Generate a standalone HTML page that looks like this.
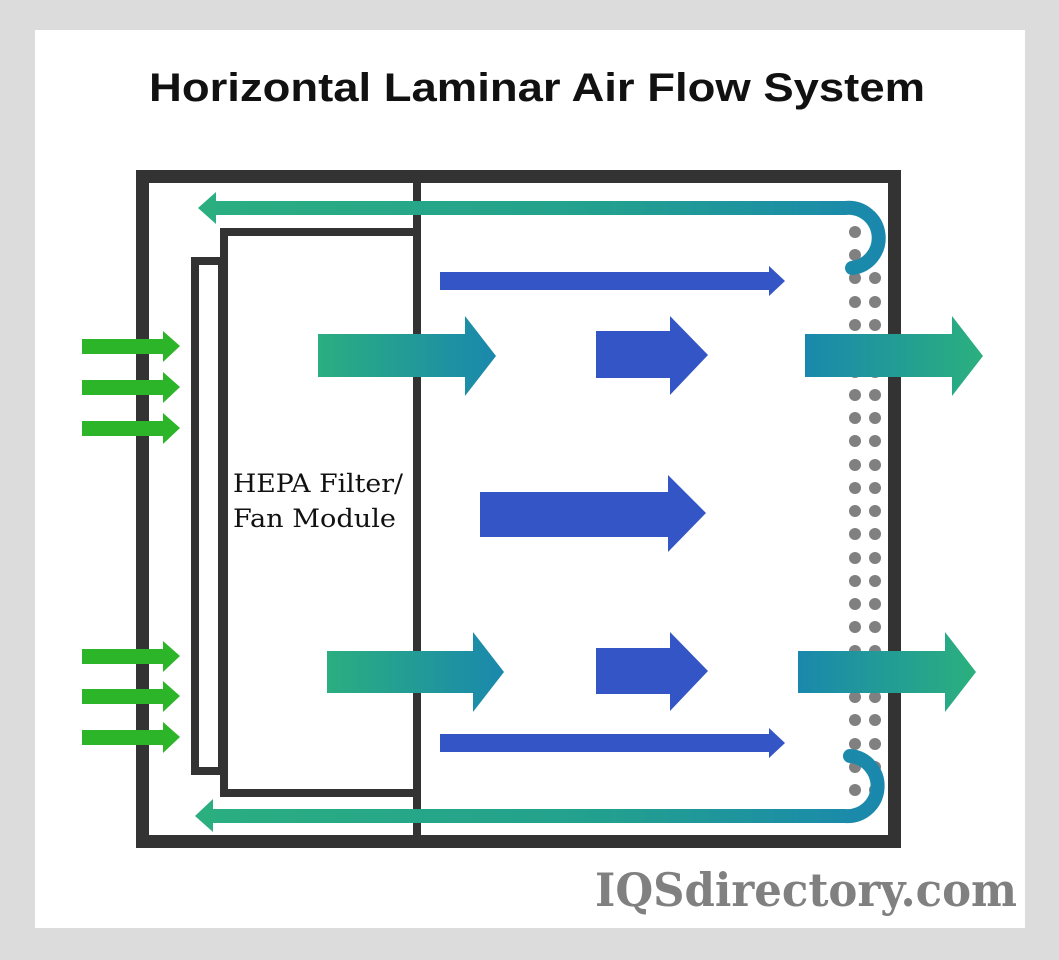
<!DOCTYPE html>
<html><head><meta charset="utf-8"><style>
html,body{margin:0;padding:0;background:#dcdcdc;}
svg{display:block}
</style></head><body>
<svg width="1059" height="960" viewBox="0 0 1059 960" xmlns="http://www.w3.org/2000/svg">
<defs>
<linearGradient id="gt" x1="0" x2="1" y1="0" y2="0"><stop offset="0" stop-color="#2bae80"/><stop offset="1" stop-color="#1a88ad"/></linearGradient>
<linearGradient id="gr" x1="0" x2="1" y1="0" y2="0"><stop offset="0" stop-color="#1a88ad"/><stop offset="1" stop-color="#2bb07e"/></linearGradient>
<linearGradient id="gtop" gradientUnits="userSpaceOnUse" x1="200" x2="880" y1="0" y2="0"><stop offset="0" stop-color="#2bae80"/><stop offset="0.6" stop-color="#22a08f"/><stop offset="1" stop-color="#1a88ad"/></linearGradient>
</defs>
<rect x="35" y="30" width="990" height="898" fill="#fff"/>
<text x="537" y="101" text-anchor="middle" font-family="Liberation Sans, sans-serif" font-weight="bold" font-size="40" textLength="776" lengthAdjust="spacingAndGlyphs" fill="#111">Horizontal Laminar Air Flow System</text>

<!-- box -->
<rect x="142.5" y="176.5" width="752" height="665" fill="none" stroke="#333" stroke-width="13"/>
<rect x="195" y="261" width="27" height="510" fill="none" stroke="#333" stroke-width="8"/>
<rect x="224" y="232" width="193" height="561" fill="#fff" stroke="#333" stroke-width="8"/>
<line x1="417" y1="182" x2="417" y2="836" stroke="#333" stroke-width="8"/>

<text font-family="DejaVu Serif, Liberation Serif, serif" font-size="25" fill="#111"><tspan x="233" y="492" textLength="170" lengthAdjust="spacingAndGlyphs">HEPA Filter/</tspan><tspan x="233" y="527" textLength="163" lengthAdjust="spacingAndGlyphs">Fan Module</tspan></text>

<!-- dots grid -->
<g fill="#808080">
<circle cx="855" cy="232" r="6"/><circle cx="855" cy="255" r="6"/><circle cx="855" cy="278" r="6"/><circle cx="875" cy="278" r="6"/>
<circle cx="855" cy="302" r="6"/><circle cx="875" cy="302" r="6"/><circle cx="855" cy="325" r="6"/><circle cx="875" cy="325" r="6"/>
<circle cx="855" cy="348" r="6"/><circle cx="875" cy="348" r="6"/><circle cx="855" cy="372" r="6"/><circle cx="875" cy="372" r="6"/>
<circle cx="855" cy="395" r="6"/><circle cx="875" cy="395" r="6"/><circle cx="855" cy="418" r="6"/><circle cx="875" cy="418" r="6"/>
<circle cx="855" cy="441" r="6"/><circle cx="875" cy="441" r="6"/><circle cx="855" cy="465" r="6"/><circle cx="875" cy="465" r="6"/>
<circle cx="855" cy="488" r="6"/><circle cx="875" cy="488" r="6"/><circle cx="855" cy="511" r="6"/><circle cx="875" cy="511" r="6"/>
<circle cx="855" cy="534" r="6"/><circle cx="875" cy="534" r="6"/><circle cx="855" cy="558" r="6"/><circle cx="875" cy="558" r="6"/>
<circle cx="855" cy="581" r="6"/><circle cx="875" cy="581" r="6"/><circle cx="855" cy="604" r="6"/><circle cx="875" cy="604" r="6"/>
<circle cx="855" cy="627" r="6"/><circle cx="875" cy="627" r="6"/><circle cx="855" cy="651" r="6"/><circle cx="875" cy="651" r="6"/>
<circle cx="855" cy="674" r="6"/><circle cx="875" cy="674" r="6"/><circle cx="855" cy="697" r="6"/><circle cx="875" cy="697" r="6"/>
<circle cx="855" cy="720" r="6"/><circle cx="875" cy="720" r="6"/><circle cx="855" cy="744" r="6"/><circle cx="875" cy="744" r="6"/>
<circle cx="855" cy="767" r="6"/><circle cx="875" cy="767" r="6"/><circle cx="855" cy="790" r="6"/><circle cx="875" cy="790" r="6"/>
</g>

<!-- return paths -->
<path d="M215 208 L845 208 A30 30 0 0 1 852 268" fill="none" stroke="url(#gtop)" stroke-width="14" stroke-linecap="round"/>
<polygon points="198,208 216,192 216,224" fill="#2bae80"/>
<path d="M212 816 L845 816 A30 30 0 0 0 850 756" fill="none" stroke="url(#gtop)" stroke-width="14" stroke-linecap="round"/>
<polygon points="195,816 213,799 213,832" fill="#2bae80"/>

<!-- green inputs -->
<g fill="#2db52a">
<polygon points="82,339 163,339 163,331 180,346 163,362 163,354 82,354"/>
<polygon points="82,380 163,380 163,372 180,387 163,403 163,395 82,395"/>
<polygon points="82,421 163,421 163,413 180,428 163,444 163,436 82,436"/>
<polygon points="82,649 163,649 163,641 180,656 163,672 163,664 82,664"/>
<polygon points="82,689 163,689 163,681 180,696 163,712 163,704 82,704"/>
<polygon points="82,730 163,730 163,722 180,737 163,753 163,745 82,745"/>
</g>

<!-- gradient arrows -->
<polygon points="318,334 465,334 465,316 496,356 465,396 465,377 318,377" fill="url(#gt)"/>
<polygon points="327,651 473,651 473,632 504,672 473,712 473,693 327,693" fill="url(#gt)"/>
<polygon points="805,334 952,334 952,316 983,356 952,396 952,377 805,377" fill="url(#gr)"/>
<polygon points="798,651 945,651 945,632 976,672 945,712 945,693 798,693" fill="url(#gr)"/>

<!-- blue arrows -->
<g fill="#3355c6">
<polygon points="440,272 769,272 769,266 785,281 769,296 769,290 440,290"/>
<polygon points="440,734 769,734 769,728 785,743 769,758 769,752 440,752"/>
<polygon points="596,331 670,331 670,316 708,355 670,395 670,378 596,378"/>
<polygon points="596,648 670,648 670,632 708,671 670,711 670,694 596,694"/>
<polygon points="480,492 668,492 668,475 706,513 668,552 668,537 480,537"/>
</g>

<text x="595" y="906" font-family="DejaVu Serif, Liberation Serif, serif" font-weight="bold" font-size="46" fill="#808080" textLength="422" lengthAdjust="spacingAndGlyphs">IQSdirectory.com</text>
</svg>
</body></html>
